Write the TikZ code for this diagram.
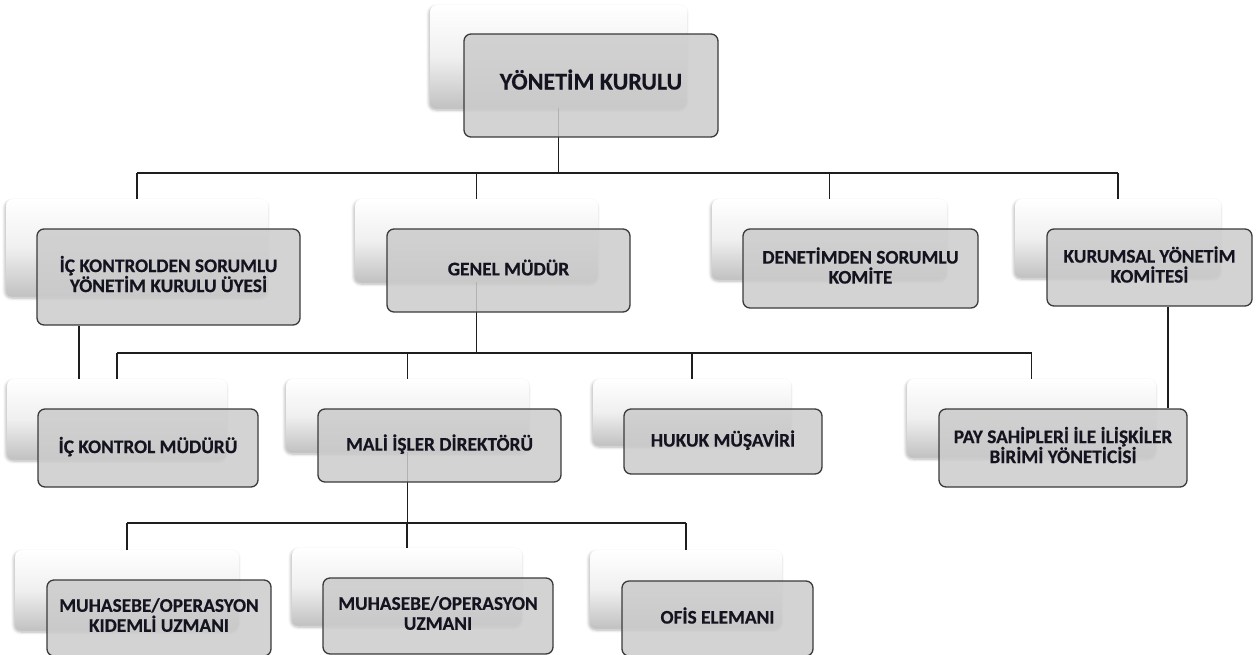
\documentclass[tikz,border=0pt]{standalone}
\usepackage{fontspec}
\setmainfont{Carlito}[BoldFeatures={FakeBold=0.5}]
\usetikzlibrary{shadows.blur}
\pgfdeclarelayer{bg}
\pgfsetlayers{bg,main}
\definecolor{frontfill}{HTML}{CBCBCB}
\definecolor{frontdraw}{HTML}{3A3A3A}
\definecolor{linecol}{HTML}{1E1E1E}
\definecolor{txtcol}{HTML}{141420}
\newcommand{\lift}{\\[-14pt]}
\tikzset{
  backbox/.style={rounded corners=7pt, draw=none, inner sep=0pt,
    top color=white, bottom color=black!24, middle color=black!6,
    blur shadow={shadow xshift=-1pt, shadow yshift=-2pt, shadow blur steps=6, shadow opacity=30, shadow blur radius=3pt}},
  frontbox/.style={rounded corners=7pt, draw=frontdraw, line width=1.3pt,
    fill=frontfill, fill opacity=0.85, text opacity=1, inner sep=0pt,
    align=center, text=txtcol, font=\bfseries\fontsize{19.3}{20}\selectfont},
  bigtext/.style={font=\bfseries\fontsize{24}{26}\selectfont},
  conn/.style={draw=linecol, line width=1.4pt}
}
\begin{document}
\begin{tikzpicture}[x=1pt,y=-1pt]
\useasboundingbox (0,0) rectangle (1258,654);
% back boxes
\node[backbox, minimum width=257pt, minimum height=103pt] (ykb) at (558.5,56.5) {};
\node[backbox, minimum width=262pt, minimum height=97pt] (b1) at (137,247.5) {};
\node[backbox, minimum width=243pt, minimum height=83pt] (b2) at (476.5,240.5) {};
\node[backbox, minimum width=235pt, minimum height=80pt] (b3) at (829.5,239) {};
\node[backbox, minimum width=206pt, minimum height=78pt] (b4) at (1118,238) {};
\node[backbox, minimum width=220pt, minimum height=80pt] (b5) at (117,419) {};
\node[backbox, minimum width=243pt, minimum height=73pt] (b6) at (407.5,415.5) {};
\node[backbox, minimum width=198pt, minimum height=66pt] (b7) at (692,412) {};
\node[backbox, minimum width=249pt, minimum height=78pt] (b8) at (1031.5,418) {};
\node[backbox, minimum width=224pt, minimum height=80pt] (b9) at (127,590) {};
\node[backbox, minimum width=230pt, minimum height=77pt] (b10) at (407,586.5) {};
\node[backbox, minimum width=192pt, minimum height=78pt] (b11) at (686,589) {};
% front boxes
\node[frontbox, bigtext, minimum width=254pt, minimum height=103pt] (yk) at (591,85.5) {YÖNETİM KURULU\lift};
\node[frontbox, minimum width=263pt, minimum height=96pt] (f1) at (168.5,277) {İÇ KONTROLDEN SORUMLU\\YÖNETİM KURULU ÜYESİ\lift};
\node[frontbox, minimum width=243pt, minimum height=83pt] (f2) at (508.5,270.5) {GENEL MÜDÜR\lift};
\node[frontbox, minimum width=235pt, minimum height=79pt] (f3) at (860.5,268.5) {DENETİMDEN SORUMLU\\KOMİTE\lift};
\node[frontbox, minimum width=205pt, minimum height=77pt] (f4) at (1149.5,267.5) {KURUMSAL YÖNETİM\\KOMİTESİ\lift};
\node[frontbox, minimum width=220pt, minimum height=78pt] (f5) at (148,448) {İÇ KONTROL MÜDÜRÜ\lift};
\node[frontbox, minimum width=243pt, minimum height=73pt] (f6) at (439.5,445.5) {MALİ İŞLER DİREKTÖRÜ\lift};
\node[frontbox, minimum width=198pt, minimum height=65pt] (f7) at (723,441.5) {HUKUK MÜŞAVİRİ\lift};
\node[frontbox, minimum width=248pt, minimum height=78pt] (f8) at (1063,448) {PAY SAHİPLERİ İLE İLİŞKİLER\\BİRİMİ YÖNETİCİSİ\lift};
\node[frontbox, minimum width=224pt, minimum height=76pt] (f9) at (159,618) {MUHASEBE/OPERASYON\\KIDEMLİ UZMANI\lift};
\node[frontbox, minimum width=230pt, minimum height=76pt] (f10) at (438,616) {MUHASEBE/OPERASYON\\UZMANI\lift};
\node[frontbox, minimum width=191pt, minimum height=75pt] (f11) at (717.5,618.5) {OFİS ELEMANI\lift};
% connectors
\coordinate (h1) at (0,173);
\coordinate (h2) at (0,353);
\coordinate (h3) at (0,523);
\coordinate (v1) at (79,0);
\coordinate (v2) at (1168,0);
\begin{pgfonlayer}{bg}
\draw[conn] (ykb.center) -- (ykb.center |- h1);
\draw[conn] (b1.center |- h1) -- (b4.center |- h1);
\foreach \n in {b1,b2,b3,b4} \draw[conn] (\n.center |- h1) -- (\n.north);
\draw[conn] (b2.center) -- (b2.center |- h2);
\draw[conn] (b5.center |- h2) -- (b8.center |- h2);
\foreach \n in {b5,b6,b7,b8} \draw[conn] (\n.center |- h2) -- (\n.north);
\draw[conn] (b6.center) -- (b6.center |- h3);
\draw[conn] (b9.center |- h3) -- (b11.center |- h3);
\foreach \n in {b9,b10,b11} \draw[conn] (\n.center |- h3) -- (\n.north);
\draw[conn] (v1 |- f1.south) -- (v1 |- b5.north);
\draw[conn] (v2 |- f4.south) -- (v2 |- f8.north);
\end{pgfonlayer}
\end{tikzpicture}
\end{document}
